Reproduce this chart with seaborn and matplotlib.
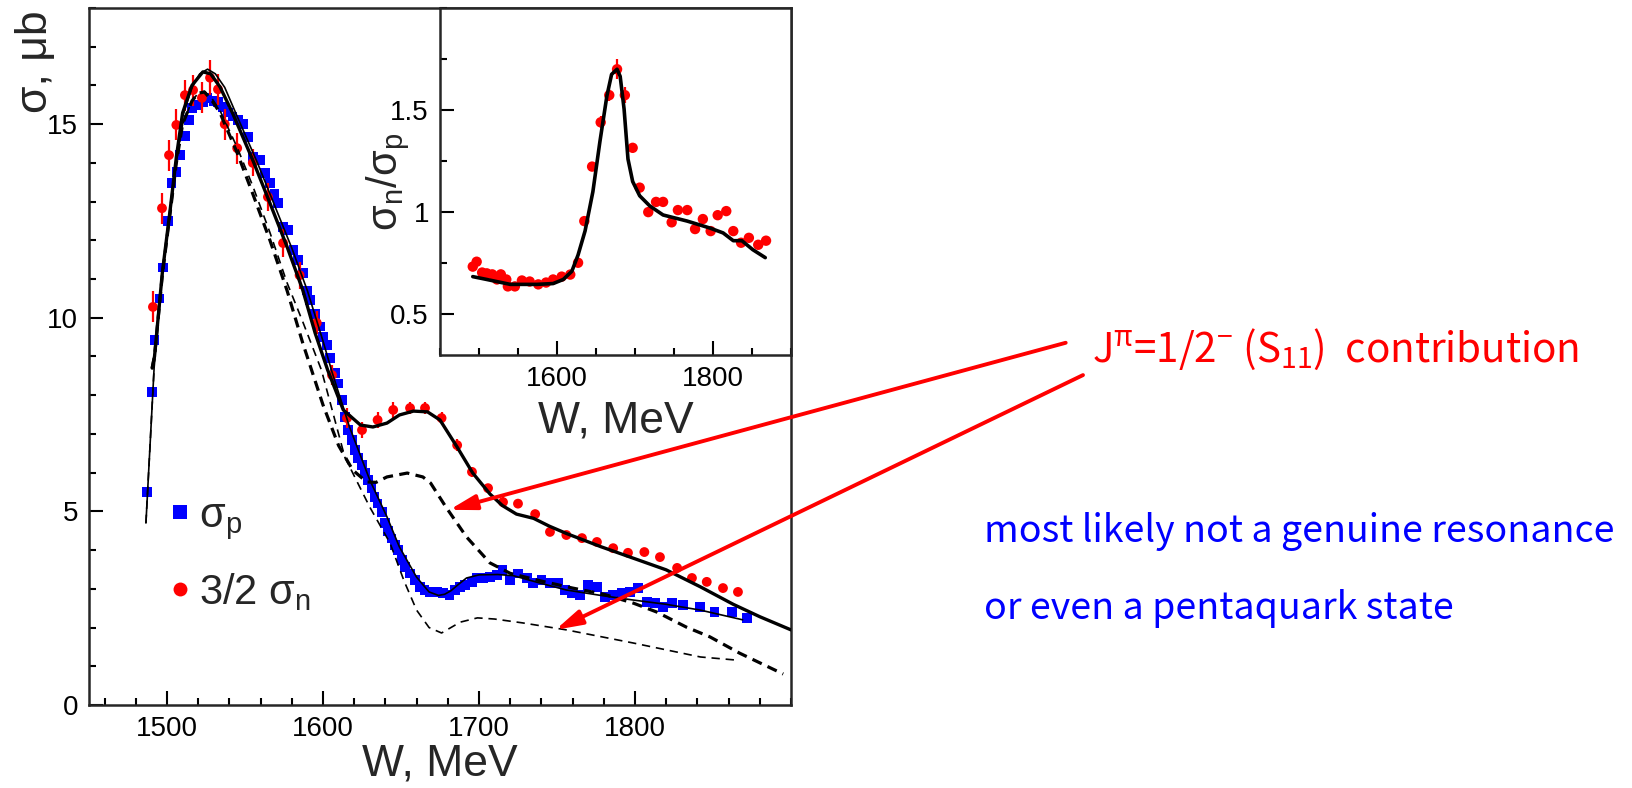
import numpy as np
import pandas as pd
import matplotlib
matplotlib.use("Agg")
import matplotlib.pyplot as plt
from matplotlib.lines import Line2D
from matplotlib.ticker import MultipleLocator, FixedLocator, FixedFormatter
import seaborn as sns

# ---------------- data ----------------
# proton cross section (blue squares)
w_p = [1487, 1490.4, 1491.9, 1495.3, 1497.5, 1500.7, 1503, 1506, 1508.5, 1511.5,
       1514, 1516, 1519, 1523, 1526, 1529.7, 1532.8, 1536, 1539, 1542,
       1545.5, 1548.7, 1552, 1555, 1559.6, 1562.8, 1566, 1569, 1571, 1574.5,
       1577.7, 1581, 1584, 1587, 1589.7, 1591.7, 1595, 1598, 1600, 1602.6,
       1604.5, 1607.7, 1609.6, 1612, 1614, 1616, 1618.6, 1620.5, 1622.4, 1625,
       1627, 1629, 1631, 1633, 1635, 1637.8, 1639.7, 1641.7, 1644, 1646,
       1648, 1650.6, 1652.6, 1655.8, 1659, 1662, 1665, 1668.6, 1673, 1677,
       1681, 1684.6, 1688, 1691, 1695.5, 1698.7, 1702.6, 1707, 1711.5, 1715,
       1720, 1725, 1730.8, 1734.6, 1740, 1745.5, 1750.6, 1755, 1759.6, 1764.7,
       1770, 1775.6, 1780.8, 1786, 1791.7, 1796.8, 1802, 1807.7, 1812.8, 1818,
       1823.7, 1830.8, 1841.7, 1851, 1862, 1871.8]
sig_p = [5.5, 8.09, 9.43, 10.5, 11.3, 12.5, 13.48, 13.77, 14.2, 14.7,
         15.1, 15.42, 15.5, 15.57, 15.67, 15.6, 15.57, 15.44, 15.3, 15.2,
         15.1, 15.0, 14.67, 14.15, 14.07, 13.74, 13.48, 13.2, 12.96, 12.35,
         12.27, 11.75, 11.5, 11.15, 10.7, 10.46, 10.1, 9.77, 9.5, 9.3,
         8.96, 8.57, 8.3, 7.88, 7.44, 7.1, 6.84, 6.58, 6.38, 6.2,
         5.99, 5.81, 5.6, 5.37, 5.2, 4.98, 4.7, 4.5, 4.3, 4.13,
         4.0, 3.74, 3.56, 3.4, 3.23, 3.05, 2.97, 2.92, 2.92, 2.89,
         2.84, 2.97, 3.05, 3.1, 3.18, 3.28, 3.28, 3.3, 3.36, 3.49,
         3.23, 3.4, 3.28, 3.15, 3.23, 3.15, 3.15, 2.97, 2.89, 2.84,
         3.1, 3.05, 2.79, 2.84, 2.89, 2.92, 3.02, 2.66, 2.63, 2.53,
         2.63, 2.58, 2.53, 2.4, 2.4, 2.25]

# neutron cross section times 3/2 (red circles)
w_n = [1491, 1496.8, 1501.3, 1506, 1511.5, 1516.7, 1522.4, 1527.6, 1532.7, 1537,
       1545, 1555, 1564.7, 1574.4, 1585, 1596, 1605.8, 1615.4, 1625, 1635,
       1645, 1655.8, 1665.4, 1676, 1686, 1695.5, 1705.8, 1715.4, 1725, 1736,
       1745.5, 1756, 1766, 1775.6, 1786, 1795.5, 1806, 1816, 1827, 1836.5,
       1846, 1856.4, 1866]
sig_n = [10.28, 12.83, 14.2, 14.98, 15.75, 15.88, 15.68, 16.2, 15.9, 15.0,
         14.38, 14.0, 13.12, 11.93, 11.1, 9.87, 8.52, 7.41, 7.1, 7.36,
         7.62, 7.67, 7.67, 7.41, 6.71, 6.02, 5.6, 5.24, 5.2, 4.93,
         4.47, 4.39, 4.31, 4.21, 4.05, 3.93, 3.95, 3.82, 3.54, 3.28,
         3.18, 3.02, 2.92]
err_n = [0.4, 0.4, 0.4, 0.4, 0.4, 0.4, 0.4, 0.45, 0.4, 0.4,
         0.4, 0.35, 0.35, 0.35, 0.35, 0.3, 0.25, 0.25, 0.2, 0.2,
         0.2, 0.15, 0.15, 0.15, 0.15, 0.12, 0.12, 0.12, 0.1, 0.1,
         0.1, 0.1, 0.1, 0.1, 0.1, 0.1, 0.1, 0.1, 0.1, 0.1,
         0.1, 0.1, 0.1]

# model: 3/2 sigma_n, full (thick solid)
fit_n_w = [1490.5, 1492, 1497, 1502, 1506, 1510, 1516, 1523, 1528, 1534,
           1542, 1555, 1566, 1577, 1587, 1595, 1603, 1613, 1624, 1632,
           1641, 1649, 1658, 1667, 1675, 1686, 1696, 1707, 1715, 1724,
           1735, 1745, 1756, 1778, 1799, 1820, 1842, 1863, 1880, 1900]
fit_n_s = [8.7, 9.0, 11.16, 12.78, 14.15, 15.29, 16.0, 16.35, 16.3, 15.96,
           15.29, 14.07, 12.96, 11.83, 10.72, 9.6, 8.65, 7.62, 7.23, 7.18,
           7.28, 7.49, 7.59, 7.57, 7.36, 6.66, 5.99, 5.45, 5.15, 4.93,
           4.82, 4.62, 4.43, 4.09, 3.79, 3.49, 3.05, 2.6, 2.28, 1.94]

# model: sigma_p, full (thin solid)
fit_p_w = [1486.5, 1489, 1492, 1497, 1502, 1506, 1510, 1516, 1521, 1526,
           1531, 1537, 1545, 1558, 1569, 1580, 1590, 1600, 1606, 1617,
           1630, 1641, 1649, 1660, 1668, 1674, 1678, 1682, 1687, 1692,
           1700, 1712, 1722, 1739, 1756, 1778, 1799, 1820, 1842, 1869]
fit_p_s = [4.7, 6.6, 8.9, 11.1, 12.75, 14.1, 15.2, 15.95, 16.3, 16.42,
           16.3, 15.95, 15.2, 14.0, 12.9, 11.8, 10.7, 9.4, 8.57, 7.18,
           5.81, 4.86, 4.08, 3.3, 2.92, 2.83, 2.86, 2.95, 3.12, 3.28,
           3.36, 3.37, 3.34, 3.15, 2.97, 2.83, 2.71, 2.6, 2.45, 2.2]

# model: 3/2 sigma_n without S11 (thick dashed)
noS_n_w = [1490.5, 1492, 1497, 1502, 1506, 1510, 1516, 1520, 1524, 1529,
           1534, 1545, 1555, 1566, 1577, 1587, 1600, 1610, 1619, 1628,
           1634, 1641, 1654, 1664, 1669, 1679, 1692, 1707, 1720, 1740,
           1760, 1780, 1799, 1814, 1833, 1848, 1867, 1895]
noS_n_s = [8.7, 9.0, 11.1, 12.7, 14.0, 15.0, 15.6, 15.8, 15.83, 15.6,
           15.29, 14.26, 13.2, 12.0, 10.7, 9.35, 7.75, 6.7, 6.07, 5.76,
           5.75, 5.89, 5.99, 5.89, 5.73, 5.1, 4.34, 3.67, 3.4, 3.2,
           3.02, 2.86, 2.63, 2.4, 2.01, 1.76, 1.34, 0.8]

# model: sigma_p without S11 (thin dashed)
noS_p_w = [1486.5, 1489, 1492, 1497, 1502, 1506, 1510, 1516, 1520, 1524,
           1529, 1534, 1545, 1555, 1566, 1577, 1587, 1599, 1614, 1630,
           1643, 1652, 1660, 1668, 1676, 1682, 1688, 1699, 1710, 1728,
           1756, 1799, 1842, 1865]
noS_p_s = [4.7, 6.6, 8.9, 11.1, 12.7, 14.0, 15.0, 15.6, 15.8, 15.85,
           15.65, 15.35, 14.4, 13.4, 12.2, 10.9, 9.9, 8.65, 6.4, 5.11,
           4.18, 3.2, 2.45, 2.0, 1.86, 2.0, 2.14, 2.25, 2.22, 2.12,
           1.94, 1.6, 1.24, 1.16]

# ratio sigma_n / sigma_p (inset)
w_r = [1492, 1497, 1504, 1510, 1517, 1523, 1528, 1535, 1537, 1546,
       1555, 1565, 1576, 1586, 1595, 1606, 1617, 1627, 1635, 1645,
       1656, 1667, 1677, 1687, 1697, 1706, 1717, 1727, 1736, 1747,
       1755, 1767, 1777, 1787, 1797, 1806, 1817, 1826, 1836, 1846,
       1858, 1868]
ratio = [0.733, 0.757, 0.704, 0.70, 0.695, 0.67, 0.695, 0.67, 0.636, 0.636,
         0.665, 0.66, 0.646, 0.655, 0.67, 0.684, 0.694, 0.752, 0.956, 1.223,
         1.44, 1.573, 1.70, 1.573, 1.315, 1.12, 1.0, 1.05, 1.05, 0.95,
         1.01, 1.01, 0.917, 0.966, 0.907, 0.985, 1.005, 0.907, 0.85, 0.874,
         0.84, 0.86]
ratio_err = [0.02] * 20 + [0.03, 0.03, 0.05, 0.04] + [0.02] * 18

fit_r_w = [1492, 1510, 1540, 1574, 1595, 1608, 1619, 1627, 1636, 1646,
           1655, 1664, 1670, 1677, 1681, 1686, 1691, 1697, 1706, 1719,
           1736, 1767, 1796, 1813, 1826, 1837, 1851, 1867]
fit_r = [0.684, 0.67, 0.646, 0.646, 0.65, 0.67, 0.71, 0.79, 0.908, 1.10,
         1.345, 1.57, 1.675, 1.70, 1.665, 1.505, 1.26, 1.15, 1.08, 1.03,
         0.986, 0.956, 0.922, 0.898, 0.86, 0.86, 0.816, 0.777]

x_major = [1500, 1600, 1700, 1800]
inset_x_major = [1600, 1800]
inset_y_major = [0.5, 1.0, 1.5]
inset_y_labels = ["0.5", "1", "1.5"]

# ---------------- style ----------------
sns.set_style("ticks")
plt.rcParams["font.family"] = ["Liberation Sans", "DejaVu Sans"]
plt.rcParams["axes.linewidth"] = 1.8

BLUE = "#0000ff"
RED = "#ff0000"
note_font = ["Noto Sans CJK JP", "DejaVu Sans"]

fig = plt.figure(figsize=(16.32, 7.88), dpi=100)
fig.patch.set_facecolor("white")

# ---------------- main panel ----------------
ax = fig.add_axes([0.05453, 0.10533, 0.43015, 0.88452])

sns.scatterplot(x=w_p, y=sig_p, marker="s", s=48, color=BLUE, edgecolor="none",
                linewidth=0, ax=ax, zorder=3, legend=False)
ax.errorbar(w_n, sig_n, yerr=err_n, fmt="none", ecolor=RED, elinewidth=1.6,
            capsize=0, zorder=3)
sns.scatterplot(x=w_n, y=sig_n, marker="o", s=50, color=RED, edgecolor="none",
                linewidth=0, ax=ax, zorder=3.5, legend=False)

sns.lineplot(x=noS_p_w, y=noS_p_s, color="black", lw=1.2,
             linestyle=(0, (5, 3.5)), ax=ax, zorder=4)
sns.lineplot(x=noS_n_w, y=noS_n_s, color="black", lw=2.3,
             linestyle=(0, (3.2, 2.0)), ax=ax, zorder=4)
sns.lineplot(x=fit_p_w, y=fit_p_s, color="black", lw=1.2, ax=ax, zorder=4)
sns.lineplot(x=fit_n_w, y=fit_n_s, color="black", lw=2.4, ax=ax, zorder=4)

ax.set_xlim(1450, 1900)
ax.set_ylim(0, 18)
ax.xaxis.set_major_locator(FixedLocator(x_major))
ax.xaxis.set_minor_locator(MultipleLocator(20))
ax.yaxis.set_major_locator(MultipleLocator(5))
ax.yaxis.set_minor_locator(MultipleLocator(1))
ax.tick_params(which="both", direction="in", top=False, right=False,
               width=1.5, colors="black")
ax.tick_params(which="major", length=10, labelsize=20, pad=8)
ax.tick_params(which="minor", length=5)

ax.set_xlabel("W, MeV", fontsize=32)
ax.xaxis.set_label_coords(0.5, -0.055)
ax.set_ylabel("σ, μb", fontsize=32, loc="top")
ax.yaxis.set_label_coords(-0.047, 0.997)

handles = [
    Line2D([], [], marker="s", ls="none", color=BLUE, markeredgewidth=0,
           markersize=9.5),
    Line2D([], [], marker="o", ls="none", color=RED, markeredgewidth=0,
           markersize=10),
]
labels = [r"σ$\mathregular{_p}$", r"3/2 σ$\mathregular{_n}$"]
ax.legend(handles, labels, loc="upper left", bbox_to_anchor=(0.118, 0.30),
          frameon=False, fontsize=30, handlelength=0.4, handletextpad=0.25,
          labelspacing=0.7, borderpad=0, borderaxespad=0)

# ---------------- inset: ratio ----------------
axi = fig.add_axes([0.26961, 0.54949, 0.21507, 0.44036])
axi.set_facecolor("white")
axi.errorbar(w_r, ratio, yerr=ratio_err, fmt="none", ecolor=RED,
             elinewidth=1.6, capsize=0, zorder=3)
sns.scatterplot(x=w_r, y=ratio, marker="o", s=56, color=RED, edgecolor="none",
                linewidth=0, ax=axi, zorder=3.5, legend=False)
sns.lineplot(x=fit_r_w, y=fit_r, color="black", lw=2.6, ax=axi, zorder=4)

axi.set_xlim(1450, 1900)
axi.set_ylim(0.3, 2.0)
axi.xaxis.set_major_locator(FixedLocator(inset_x_major))
axi.xaxis.set_minor_locator(MultipleLocator(50))
axi.yaxis.set_major_locator(FixedLocator(inset_y_major))
axi.yaxis.set_major_formatter(FixedFormatter(inset_y_labels))
axi.yaxis.set_minor_locator(MultipleLocator(0.25))
axi.tick_params(which="both", direction="in", top=False, right=False,
                width=1.5, colors="black")
axi.tick_params(which="major", length=10, labelsize=20, pad=8)
axi.tick_params(which="minor", length=5)
axi.set_xlabel("W, MeV", fontsize=32)
axi.xaxis.set_label_coords(0.5, -0.13)
axi.set_ylabel(r"σ$\mathregular{_n}$/σ$\mathregular{_p}$", fontsize=30)
axi.yaxis.set_label_coords(-0.08, 0.5)

# ---------------- annotations ----------------
arrow_style = dict(arrowstyle="-|>,head_length=1.6,head_width=0.45",
                   color=RED, lw=2.8, shrinkA=0, shrinkB=0)
ax.annotate("", xy=(1681, 5.04), xycoords="data",
            xytext=(0.653, 0.565), textcoords="figure fraction",
            arrowprops=arrow_style, annotation_clip=False, zorder=6)
ax.annotate("", xy=(1749, 1.94), xycoords="data",
            xytext=(0.6636, 0.524), textcoords="figure fraction",
            arrowprops=arrow_style, annotation_clip=False, zorder=6)

fig.text(0.669, 0.5406,
         r"J$\mathregular{^{\pi}}$=1/2$\mathregular{^{-}}$ (S$\mathregular{_{11}}$)  contribution",
         color=RED, fontsize=29, family=note_font, va="baseline", ha="left")
fig.text(0.603, 0.312, "most likely not a genuine resonance",
         color=BLUE, fontsize=27, family=note_font, va="baseline", ha="left")
fig.text(0.603, 0.2145, "or even a pentaquark state",
         color=BLUE, fontsize=27, family=note_font, va="baseline", ha="left")

fig.savefig("out.png", dpi=100, facecolor="white")
